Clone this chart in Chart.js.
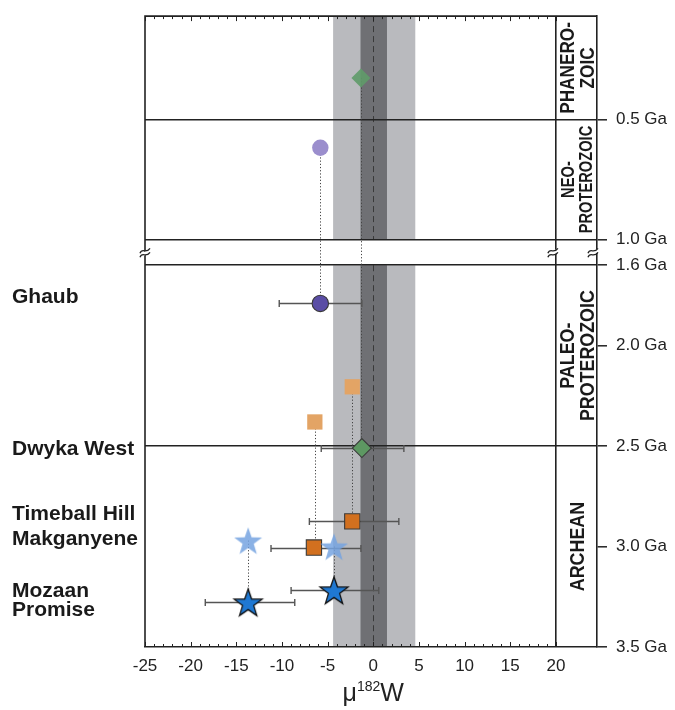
<!DOCTYPE html>
<html>
<head>
<meta charset="utf-8">
<title>mu182W through time</title>
<script src="https://cdn.jsdelivr.net/npm/chart.js@4"></script>
<style>
  html, body { margin: 0; padding: 0; background: #fff; }
  #wrap { position: relative; width: 675px; height: 710px; }
</style>
</head>
<body>
<div id="wrap"><canvas id="chart"></canvas></div>
<script>
// --- data ---
// samples with error bars (filled markers)
const sampleNames = ['Ghaub', 'Dwyka West', 'Timeball Hill', 'Makganyene', 'Mozaan', 'Promise'];
const sampleAge = [1.79, 2.51, 2.875, 3.005, 3.217, 3.277];          // Ga
const sampleMu = [-5.8, -1.25, -2.3, -6.5, -4.3, -13.7];              // mu182W
const sampleErrLow = [-10.3, -5.7, -7.0, -11.2, -9.0, -18.4];
const sampleErrHigh = [-1.25, 3.35, 2.8, -1.35, 0.6, -8.6];
const sampleMarker = ['circle', 'diamond', 'square', 'square', 'star', 'star'];

// faded markers, each tied by a dotted line to one sample
const fadedAge = [0.325, 0.617, 2.205, 2.38, 2.97, 3.0];
const fadedMu = [-1.35, -5.8, -2.3, -6.4, -13.7, -4.3];
const fadedMarker = ['diamond', 'circle', 'square', 'square', 'star', 'star'];
const fadedLink = [1, 0, 2, 3, 5, 4];

// mantle reference bands
const bandOuter = [-4.4, 4.6];
const bandInner = [-1.4, 1.5];

// axes
const xTickLabels = [-25, -20, -15, -10, -5, 0, 5, 10, 15, 20];
const yTickAges = [0.5, 1.0, 1.6, 2.0, 2.5, 3.0, 3.5];
const yLineAges = [0.5, 1.0, 1.6, 2.5];
const eraNames = [['PHANERO-', 'ZOIC'], ['NEO-', 'PROTEROZOIC'], ['PALEO-', 'PROTEROZOIC'], ['ARCHEAN']];
const eraBounds = [[null, 0.5], [0.5, 1.0], [1.6, 2.5], [2.5, 3.5]];

// where the sample names sit (baseline, in Ga)
const nameBaselineAge = [1.788, 2.543, 2.87, 2.994, 3.252, 3.346];

// --- styles ---
const sampleFill = ['#5a4da5', '#5d9862', '#d2701f', '#d2701f', '#1f78d2', '#1f78d2'];
const fadedFill = ['rgba(95,155,105,0.9)', '#9b8ecd', '#e3a465', '#e3a465', 'rgba(118,163,224,0.85)', 'rgba(118,163,224,0.85)'];
const FONT = "'Liberation Sans', Arial, sans-serif";
const INK = '#222';

// broken age axis: 1.0-1.6 Ga squeezed into a small gap, upper part stretched
const GAP_LOW = 1.0, GAP_HIGH = 1.6, GAP_U = 0.129, UPPER_STRETCH = 1.19;
const U_TOP = 0.36, U_BOTTOM = 3.5;
function ageToU(age) {
  if (age >= GAP_HIGH) return age;
  return GAP_HIGH - GAP_U - (GAP_LOW - age) * UPPER_STRETCH;
}

function makeStar(fill, stroke, R) {
  const c = document.createElement('canvas');
  const s = Math.ceil(R * 2 + 4);
  c.width = c.height = s;
  const g = c.getContext('2d');
  g.beginPath();
  for (let i = 0; i < 10; i++) {
    const r = i % 2 ? R * 0.4 : R;
    const a = -Math.PI / 2 + i * Math.PI / 5;
    g.lineTo(s / 2 + r * Math.cos(a), s / 2 + 1.5 + r * Math.sin(a));
  }
  g.closePath();
  g.fillStyle = fill;
  g.fill();
  if (stroke) { g.lineWidth = 1.3; g.strokeStyle = stroke; g.stroke(); }
  return c;
}

function pointStyleFor(marker, fill, stroke) {
  if (marker === 'star') return makeStar(fill, stroke, 14.7);
  if (marker === 'diamond') return 'rectRot';
  if (marker === 'square') return 'rect';
  return 'circle';
}
const radiusFor = m => ({ circle: 8.2, diamond: 9.5, square: 10.8, star: 15 }[m]);

const decor = {
  id: 'decor',
  beforeDraw(chart) {
    const { ctx, chartArea: a, scales: { x, y } } = chart;
    const gapTop = y.getPixelForValue(ageToU(GAP_LOW));
    const gapBot = y.getPixelForValue(ageToU(GAP_HIGH));
    const sections = [[a.top, gapTop], [gapBot, a.bottom]];
    ctx.save();
    sections.forEach(([t, b]) => {
      ctx.fillStyle = '#b9babe';
      ctx.fillRect(x.getPixelForValue(bandOuter[0]), t, x.getPixelForValue(bandOuter[1]) - x.getPixelForValue(bandOuter[0]), b - t);
      ctx.fillStyle = '#6f7074';
      ctx.fillRect(x.getPixelForValue(bandInner[0]), t, x.getPixelForValue(bandInner[1]) - x.getPixelForValue(bandInner[0]), b - t);
      ctx.strokeStyle = '#3a3a3a';
      ctx.lineWidth = 1;
      ctx.setLineDash([6, 4]);
      const x0 = Math.round(x.getPixelForValue(0)) + 0.5;
      ctx.beginPath();
      ctx.moveTo(x0, t);
      ctx.lineTo(x0, b);
      ctx.stroke();
    });
    ctx.restore();
  },
  beforeDatasetsDraw(chart) {
    const { ctx, scales: { x, y } } = chart;
    ctx.save();
    // dotted connectors
    ctx.strokeStyle = '#444';
    ctx.lineWidth = 1;
    ctx.setLineDash([1.2, 2]);
    fadedAge.forEach((age, i) => {
      const j = fadedLink[i];
      const px = Math.round(x.getPixelForValue(fadedMu[i])) + 0.5;
      ctx.beginPath();
      ctx.moveTo(px, y.getPixelForValue(ageToU(age)));
      ctx.lineTo(px, y.getPixelForValue(ageToU(sampleAge[j])));
      ctx.stroke();
    });
    // error bars
    ctx.setLineDash([]);
    ctx.strokeStyle = '#555';
    ctx.lineWidth = 1.4;
    sampleAge.forEach((age, i) => {
      const py = Math.round(y.getPixelForValue(ageToU(age))) + 0.5;
      const l = x.getPixelForValue(sampleErrLow[i]);
      const r = x.getPixelForValue(sampleErrHigh[i]);
      ctx.beginPath();
      ctx.moveTo(l, py); ctx.lineTo(r, py);
      ctx.moveTo(l, py - 3.5); ctx.lineTo(l, py + 3.5);
      ctx.moveTo(r, py - 3.5); ctx.lineTo(r, py + 3.5);
      ctx.stroke();
    });
    ctx.restore();
  },
  afterDraw(chart) {
    const { ctx, chartArea: a, scales: { x, y } } = chart;
    ctx.save();
    ctx.strokeStyle = INK;
    // left and top frame
    ctx.lineWidth = 1.6;
    ctx.beginPath();
    ctx.moveTo(a.left, a.bottom);
    ctx.lineTo(a.left, a.top);
    ctx.lineTo(a.right, a.top);
    ctx.stroke();
    // inward tick marks, top and bottom
    ctx.lineWidth = 1;
    for (let v = -25; v <= 20; v++) {
      const px = Math.round(x.getPixelForValue(v)) + 0.5;
      const len = v % 5 === 0 ? 5 : 3;
      ctx.beginPath();
      ctx.moveTo(px, a.top); ctx.lineTo(px, a.top + len);
      ctx.moveTo(px, a.bottom); ctx.lineTo(px, a.bottom - len);
      ctx.stroke();
    }
    // axis break marks
    const gapMid = (y.getPixelForValue(ageToU(GAP_LOW)) + y.getPixelForValue(ageToU(GAP_HIGH))) / 2 + 1;
    [a.left, x.getPixelForValue(20) - 3, a.right - 4].forEach(cx => {
      ctx.fillStyle = '#fff';
      ctx.beginPath();
      ctx.moveTo(cx - 5, gapMid + 1); ctx.lineTo(cx + 5, gapMid - 5);
      ctx.lineTo(cx + 5, gapMid - 1); ctx.lineTo(cx - 5, gapMid + 5);
      ctx.closePath();
      ctx.fill();
      ctx.lineWidth = 1.3;
      [-2, 2].forEach(dy => {
        ctx.beginPath();
        ctx.moveTo(cx - 5, gapMid + dy + 2);
        ctx.bezierCurveTo(cx - 3, gapMid + dy - 4, cx + 1, gapMid + dy + 3, cx + 5, gapMid + dy - 3);
        ctx.stroke();
      });
    });
    // sample names
    ctx.fillStyle = '#1a1a1a';
    ctx.font = 'bold 21px ' + FONT;
    ctx.textAlign = 'left';
    ctx.textBaseline = 'alphabetic';
    sampleNames.forEach((name, i) => {
      ctx.fillText(name, 12, y.getPixelForValue(ageToU(nameBaselineAge[i])));
    });
    // era names in the right column
    const colMid = (x.getPixelForValue(20) + a.right) / 2 + 0.5;
    eraNames.forEach((lines, i) => {
      const t = eraBounds[i][0] === null ? a.top : y.getPixelForValue(ageToU(eraBounds[i][0]));
      const b = y.getPixelForValue(ageToU(eraBounds[i][1]));
      const avail = b - t - 12;
      let size = 21;
      ctx.font = 'bold ' + size + 'px ' + FONT;
      let w = Math.max(...lines.map(s => ctx.measureText(s).width));
      if (avail / w < 0.8) {
        size = 19;
        ctx.font = 'bold ' + size + 'px ' + FONT;
        w = Math.max(...lines.map(s => ctx.measureText(s).width));
      }
      const sx = Math.min(0.85, avail / w);
      const gap = size * 0.95;
      ctx.save();
      ctx.translate(colMid, (t + b) / 2);
      ctx.rotate(-Math.PI / 2);
      ctx.scale(sx, 1);
      ctx.textAlign = 'center';
      ctx.textBaseline = 'middle';
      lines.forEach((s, k) => {
        ctx.fillText(s, 0, (k - (lines.length - 1) / 2) * gap + 1);
      });
      ctx.restore();
    });
    // x axis title: mu 182 W
    ctx.fillStyle = INK;
    ctx.textBaseline = 'alphabetic';
    ctx.textAlign = 'left';
    const big = '25px ' + FONT, small = '14px ' + FONT;
    ctx.font = big; const wMu = ctx.measureText('\u03bc').width, wW = ctx.measureText('W').width;
    ctx.font = small; const wSup = ctx.measureText('182').width;
    let tx = x.getPixelForValue(0) - (wMu + wSup + wW) / 2;
    const ty = 701;
    ctx.font = big; ctx.fillText('\u03bc', tx, ty); tx += wMu;
    ctx.font = small; ctx.fillText('182', tx, ty - 10); tx += wSup;
    ctx.font = big; ctx.fillText('W', tx, ty);
    ctx.restore();
  }
};

const fadedPoints = fadedAge.map((age, i) => ({ x: fadedMu[i], y: ageToU(age) }));
const samplePoints = sampleAge.map((age, i) => ({ x: sampleMu[i], y: ageToU(age) }));

new Chart(document.getElementById('chart'), {
  type: 'scatter',
  data: {
    datasets: [
      {
        label: 'faded',
        data: fadedPoints,
        pointStyle: fadedMarker.map((m, i) => pointStyleFor(m, fadedFill[i], null)),
        pointRadius: fadedMarker.map(radiusFor),
        backgroundColor: fadedFill,
        borderWidth: 0,
        borderColor: 'rgba(0,0,0,0)'
      },
      {
        label: 'samples',
        data: samplePoints,
        pointStyle: sampleMarker.map((m, i) => pointStyleFor(m, sampleFill[i], '#111')),
        pointRadius: sampleMarker.map(radiusFor),
        backgroundColor: sampleFill,
        borderWidth: 1.1,
        borderColor: '#3a3a3a'
      }
    ]
  },
  options: {
    responsive: true,
    maintainAspectRatio: false,
    animation: false,
    events: [],
    layout: { padding: { left: 145, top: 12, right: 0, bottom: 0 } },
    plugins: { legend: { display: false }, tooltip: { enabled: false } },
    scales: {
      x: {
        type: 'linear',
        position: 'bottom',
        min: -25,
        max: 24.5,
        afterFit: s => { s.height = 63; s.paddingLeft = 0; s.paddingRight = 0; },
        border: { display: true, color: INK, width: 1.6 },
        grid: {
          drawTicks: false,
          color: c => (c.tick && c.tick.value === 20 ? INK : 'rgba(0,0,0,0)'),
          lineWidth: 1.6
        },
        ticks: {
          stepSize: 1,
          autoSkip: false,
          maxRotation: 0,
          padding: 9,
          color: INK,
          font: { family: FONT, size: 17 },
          callback: v => (xTickLabels.includes(v) ? String(v) : '')
        }
      },
      y: {
        type: 'linear',
        position: 'right',
        reverse: true,
        min: U_TOP,
        max: U_BOTTOM,
        afterFit: s => { s.width = 78; s.paddingTop = 0; s.paddingBottom = 0; },
        afterBuildTicks: s => { s.ticks = yTickAges.map(a => ({ value: ageToU(a) })); },
        border: { display: true, color: INK, width: 1.6 },
        grid: {
          drawTicks: true,
          tickLength: 10,
          tickColor: INK,
          tickWidth: 1.5,
          lineWidth: 1.6,
          color: c => (c.tick && yLineAges.some(a => Math.abs(ageToU(a) - c.tick.value) < 1e-6) ? INK : 'rgba(0,0,0,0)')
        },
        ticks: {
          padding: 9,
          color: INK,
          font: { family: FONT, size: 17 },
          callback: (v, i) => yTickAges[i].toFixed(1) + ' Ga'
        }
      }
    }
  },
  plugins: [decor]
});
</script>
</body>
</html>
